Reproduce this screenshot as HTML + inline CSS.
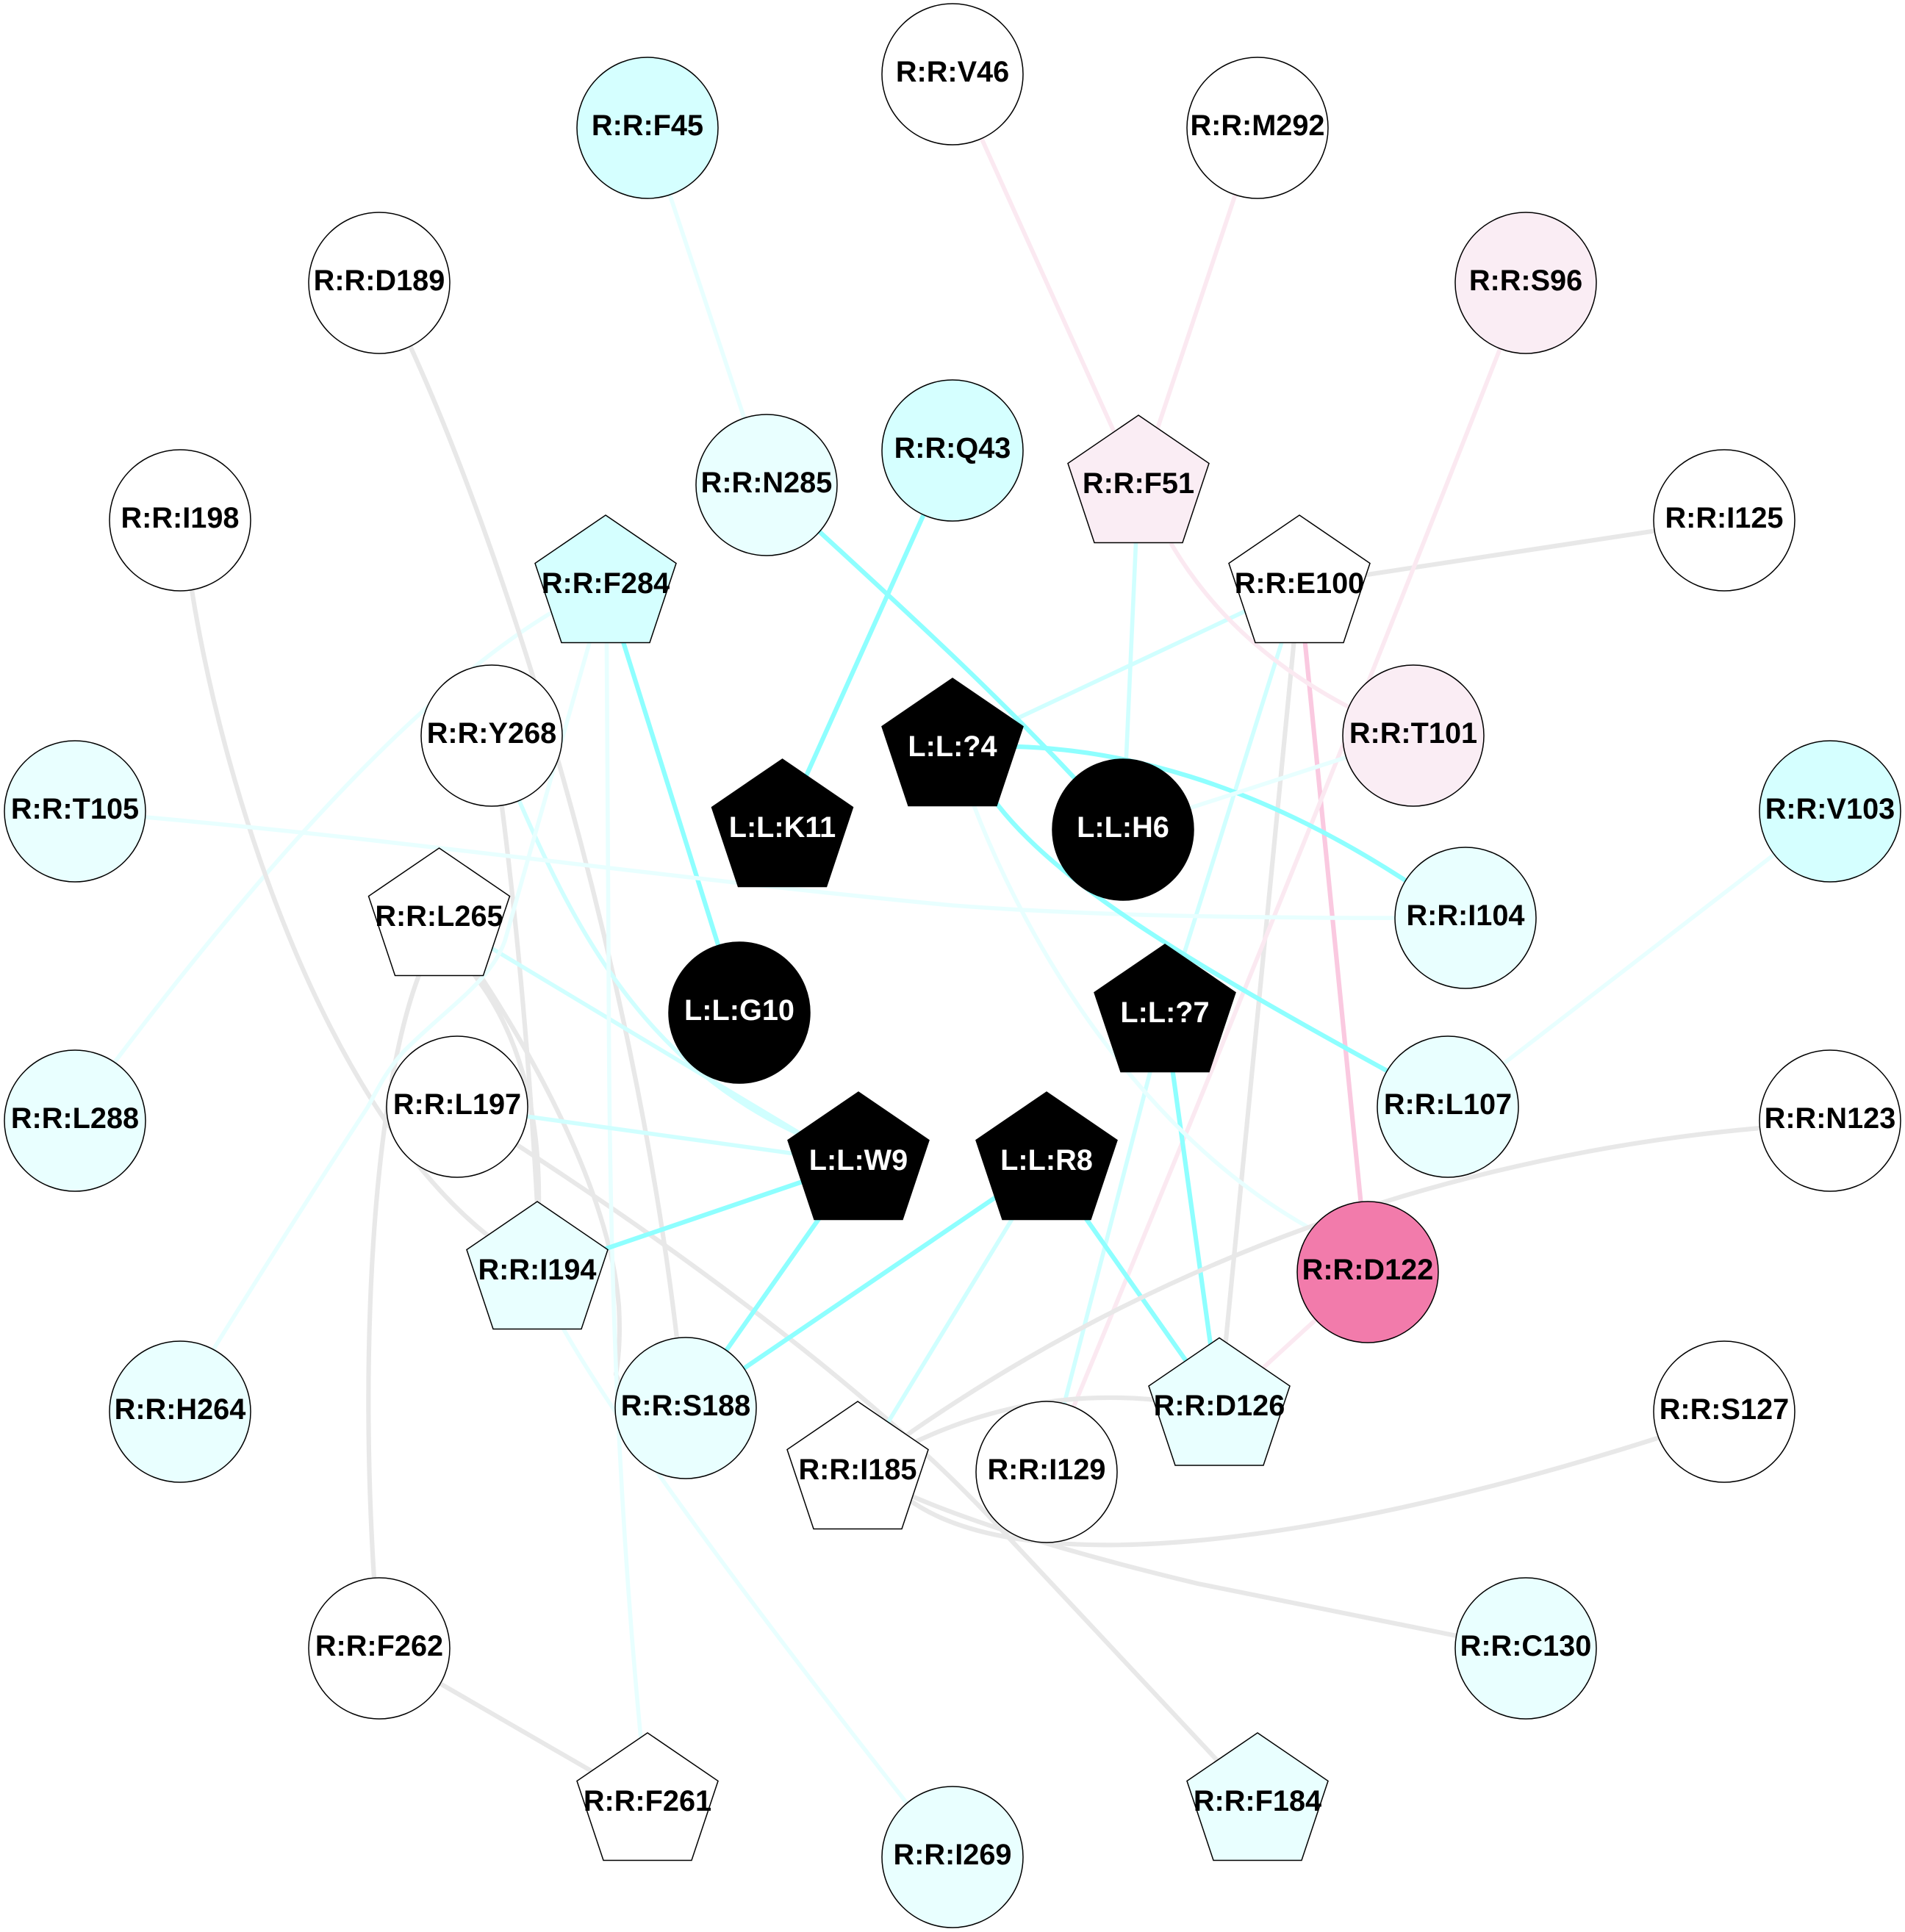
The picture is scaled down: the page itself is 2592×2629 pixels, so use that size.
<!DOCTYPE html>
<html><head><meta charset="utf-8"><style>
html,body{margin:0;padding:0;background:#fff}
svg{display:block}
text{font-family:"Liberation Sans",sans-serif;font-weight:bold;font-size:39.7px;text-anchor:middle;fill:#000}
.w{fill:#fff}
path.e{fill:none;stroke-linecap:butt;stroke-linejoin:round}
.s{stroke:#8effff;stroke-width:6.2}
.c{stroke:#d0ffff;stroke-width:5.6}
.l{stroke:#e8ffff;stroke-width:5.6}
.g{stroke:#e8e8e8;stroke-width:6.2}
.p{stroke:#fac9e0;stroke-width:6.2}
.q{stroke:#fbe9f1;stroke-width:5.8}
circle,polygon{stroke:#000;stroke-width:1.5}
</style></head><body>
<svg width="2592" height="2629" viewBox="0 0 2592 2629" xmlns="http://www.w3.org/2000/svg">
<rect width="2592" height="2629" fill="#fff"/>
<g>
<path class="e l" d="M881 174L1043 660"/>
<path class="e q" d="M1296 101L1549 661"/>
<path class="e q" d="M1711 174L1549 661"/>
<path class="e g" d="M2346 708L1768 796"/>
<path class="e c" d="M1768 797L1296 1019"/>
<path class="e c" d="M1768 797L1585 1381"/>
<path class="e c" d="M1585 1381L1424 2003"/>
<path class="e g" d="M1768 797L1659 1916"/>
<path class="e p" d="M1768 797L1861 1731"/>
<path class="e q" d="M2076 385Q1760 1194 1424 2003"/>
<path class="e c" d="M1549 661L1528 1129"/>
<path class="e q" d="M1593 739Q1673 876 1833 961L1923 1005"/>
<path class="e s" d="M1060 673C1200 802 1360 945 1500 1100"/>
<path class="e s" d="M1296 613L1064 1129"/>
<path class="e s" d="M824 797L1006 1378"/>
<path class="e l" d="M824 797L748 835C600 925 410 1110 157 1444L102 1525"/>
<path class="e g" d="M245 708L261 803C305 1080 440 1500 661 1679L731 1731"/>
<path class="e g" d="M516 385L559 473C690 760 860 1300 921 1821L933 1916"/>
<path class="e g" d="M669 1001L683 1098Q715 1350 731 1640"/>
<path class="e c" d="M669 1001L707 1091C785 1270 880 1450 1091 1545L1168 1582"/>
<path class="e c" d="M640 1273L1168 1590"/>
<path class="e g" d="M597 1250L570 1327C505 1500 490 1850 509 2148L516 2243"/>
<path class="e g" d="M620 1290L657 1333C720 1430 830 1620 842 1777Q845 1830 838 1870L850 1900"/>
<path class="e g" d="M620 1290L650 1333C700 1400 735 1500 733 1640"/>
<path class="e g" d="M622 1506C900 1680 1200 1900 1374 2094L1711 2454"/>
<path class="e l" d="M824 797L687 1280C668 1335 610 1370 550 1430C525 1458 515 1480 500 1507Q400 1660 293 1832L245 1921"/>
<path class="e l" d="M825 797L828 1300C829 1600 832 2000 881 2454"/>
<path class="e l" d="M102 1104C500 1135 900 1195 1296 1232C1480 1246 1700 1250 1994 1249"/>
<path class="e c" d="M622 1506L1168 1582"/>
<path class="e s" d="M1168 1582L731 1731"/>
<path class="e s" d="M1168 1582L933 1916"/>
<path class="e s" d="M1424 1582L933 1916"/>
<path class="e s" d="M1424 1582L1659 1916"/>
<path class="e c" d="M1424 1582L1167 2003"/>
<path class="e s" d="M1585 1381L1659 1916"/>
<path class="e s" d="M1296 1015L1383 1016C1520 1020 1700 1060 1912 1198L1994 1249"/>
<path class="e s" d="M1296 1019L1358 1096C1440 1200 1600 1300 1887 1457L1970 1506"/>
<path class="e l" d="M1296 1019L1325 1096C1400 1290 1550 1540 1780 1670L1861 1731"/>
<path class="e l" d="M1528 1129L1923 1001"/>
<path class="e l" d="M2490 1104L1970 1506"/>
<path class="e q" d="M1861 1731L1659 1916"/>
<path class="e g" d="M2490 1525L2395 1535C2000 1570 1600 1700 1242 1947L1167 2003"/>
<path class="e g" d="M1200 1985C1300 1930 1430 1885 1600 1908"/>
<path class="e g" d="M1167 2003L1243 2045C1400 2150 1790 2105 2255 1957L2346 1921"/>
<path class="e g" d="M1167 2003L1243 2037Q1380 2095 1630 2155L1982 2226L2076 2243"/>
<path class="e l" d="M731 1731L767 1809Q870 1990 1231 2450L1296 2527"/>
<path class="e g" d="M516 2243L881 2454"/>
</g>
<g>
<!-- circles -->
<circle cx="881" cy="174" r="96" fill="#d5ffff"/><text x="881" y="184">R:R:F45</text>
<circle cx="1296" cy="101" r="96" fill="#fff"/><text x="1296" y="111">R:R:V46</text>
<circle cx="1711" cy="174" r="96" fill="#fff"/><text x="1711" y="184">R:R:M292</text>
<circle cx="2076" cy="385" r="96" fill="#faedf4"/><text x="2076" y="395">R:R:S96</text>
<circle cx="2346" cy="708" r="96" fill="#fff"/><text x="2346" y="718">R:R:I125</text>
<circle cx="1923" cy="1001" r="96" fill="#faedf4"/><text x="1923" y="1011">R:R:T101</text>
<circle cx="2490" cy="1104" r="96" fill="#d5ffff"/><text x="2490" y="1114">R:R:V103</text>
<circle cx="1994" cy="1249" r="96" fill="#e9ffff"/><text x="1994" y="1259">R:R:I104</text>
<circle cx="1970" cy="1506" r="96" fill="#e9ffff"/><text x="1970" y="1516">R:R:L107</text>
<circle cx="2490" cy="1525" r="96" fill="#fff"/><text x="2490" y="1535">R:R:N123</text>
<circle cx="1861" cy="1731" r="96" fill="#f27bab"/><text x="1861" y="1741">R:R:D122</text>
<circle cx="2346" cy="1921" r="96" fill="#fff"/><text x="2346" y="1931">R:R:S127</text>
<circle cx="2076" cy="2243" r="96" fill="#e9ffff"/><text x="2076" y="2253">R:R:C130</text>
<circle cx="1424" cy="2003" r="96" fill="#fff"/><text x="1424" y="2013">R:R:I129</text>
<circle cx="1296" cy="2527" r="96" fill="#e9ffff"/><text x="1296" y="2537">R:R:I269</text>
<circle cx="1528" cy="1129" r="96" fill="#000"/><text class="w" x="1528" y="1139">L:L:H6</text>
<circle cx="1043" cy="660" r="96" fill="#e9ffff"/><text x="1043" y="670">R:R:N285</text>
<circle cx="1296" cy="613" r="96" fill="#d5ffff"/><text x="1296" y="623">R:R:Q43</text>
<circle cx="516" cy="385" r="96" fill="#fff"/><text x="516" y="395">R:R:D189</text>
<circle cx="245" cy="708" r="96" fill="#fff"/><text x="245" y="718">R:R:I198</text>
<circle cx="102" cy="1104" r="96" fill="#e9ffff"/><text x="102" y="1114">R:R:T105</text>
<circle cx="669" cy="1001" r="96" fill="#fff"/><text x="669" y="1011">R:R:Y268</text>
<circle cx="102" cy="1525" r="96" fill="#e9ffff"/><text x="102" y="1535">R:R:L288</text>
<circle cx="245" cy="1921" r="96" fill="#e9ffff"/><text x="245" y="1931">R:R:H264</text>
<circle cx="622" cy="1506" r="96" fill="#fff"/><text x="622" y="1516">R:R:L197</text>
<circle cx="933" cy="1916" r="96" fill="#e9ffff"/><text x="933" y="1926">R:R:S188</text>
<circle cx="516" cy="2243" r="96" fill="#fff"/><text x="516" y="2253">R:R:F262</text>
<circle cx="1006" cy="1378" r="96" fill="#000"/><text class="w" x="1006" y="1388">L:L:G10</text>
<!-- pentagons: apex, shoulders +65.5, bottom +173.5 -->
<polygon fill="#d5ffff" points="824,701 920,766.5 884,874.5 764,874.5 728,766.5"/><text x="824" y="807">R:R:F284</text>
<polygon fill="#fff" points="597.5,1154 693.5,1219.5 657.5,1327.5 537.5,1327.5 501.5,1219.5"/><text x="597.5" y="1260">R:R:L265</text>
<polygon fill="#000" points="1064.5,1033 1160.5,1098.5 1124.5,1206.5 1004.5,1206.5 968.5,1098.5"/><text class="w" x="1064.5" y="1139">L:L:K11</text>
<polygon fill="#faedf4" points="1549,565 1645,630.5 1609,738.5 1489,738.5 1453,630.5"/><text x="1549" y="671">R:R:F51</text>
<polygon fill="#fff" points="1768,701 1864,766.5 1828,874.5 1708,874.5 1672,766.5"/><text x="1768" y="807">R:R:E100</text>
<polygon fill="#000" points="1296,923 1392,988.5 1356,1096.5 1236,1096.5 1200,988.5"/><text class="w" x="1296" y="1029">L:L:?4</text>
<polygon fill="#000" points="1585,1285 1681,1350.5 1645,1458.5 1525,1458.5 1489,1350.5"/><text class="w" x="1585" y="1391">L:L:?7</text>
<polygon fill="#000" points="1168,1486 1264,1551.5 1228,1659.5 1108,1659.5 1072,1551.5"/><text class="w" x="1168" y="1592">L:L:W9</text>
<polygon fill="#000" points="1424,1486 1520,1551.5 1484,1659.5 1364,1659.5 1328,1551.5"/><text class="w" x="1424" y="1592">L:L:R8</text>
<polygon fill="#e9ffff" points="731,1635 827,1700.5 791,1808.5 671,1808.5 635,1700.5"/><text x="731" y="1741">R:R:I194</text>
<polygon fill="#e9ffff" points="1659,1820.5 1755,1886 1719,1994 1599,1994 1563,1886"/><text x="1659" y="1926">R:R:D126</text>
<polygon fill="#fff" points="1167,1907 1263,1972.5 1227,2080.5 1107,2080.5 1071,1972.5"/><text x="1167" y="2013">R:R:I185</text>
<polygon fill="#fff" points="881,2358 977,2423.5 941,2531.5 821,2531.5 785,2423.5"/><text x="881" y="2464">R:R:F261</text>
<polygon fill="#e9ffff" points="1711,2358 1807,2423.5 1771,2531.5 1651,2531.5 1615,2423.5"/><text x="1711" y="2464">R:R:F184</text>
</g>
</svg>
</body></html>
